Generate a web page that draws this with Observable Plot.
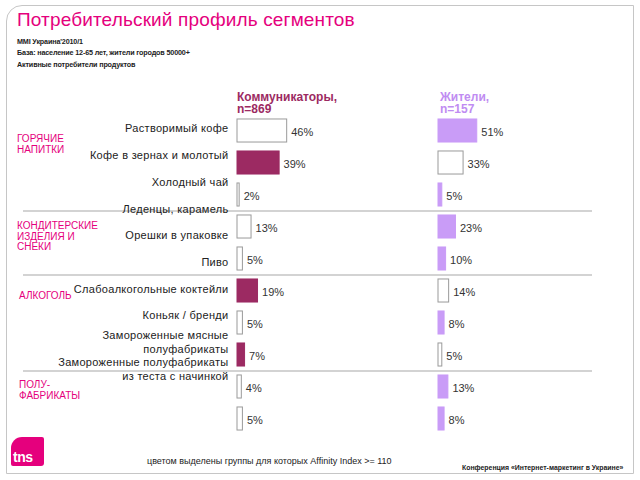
<!DOCTYPE html>
<html><head><meta charset="utf-8">
<script src="https://cdn.jsdelivr.net/npm/d3@7"></script>
<script src="https://cdn.jsdelivr.net/npm/@observablehq/plot@0.6"></script>
<style>
body{margin:0;background:#fff;font-family:"Liberation Sans",Arial,sans-serif;}
#root{position:relative;width:640px;height:480px;overflow:hidden;background:#fff;}
.abs{position:absolute;white-space:pre;}
#root svg{position:absolute;left:0;top:0;}
</style></head><body><div id="root"></div>
<script>
// ---- data ----
const title = "Потребительский профиль сегментов";
const subtitleLines = ["MMI Украина'2010/1", "База: население 12-65 лет, жители городов 50000+", "Активные потребители продуктов"];
const products = ["Растворимый кофе", "Кофе в зернах и молотый", "Холодный чай", "Леденцы, карамель", "Орешки в упаковке", "Пиво", "Слабоалкогольные коктейли", "Коньяк / бренди", "Замороженные мясные\nполуфабрикаты", "Замороженные полуфабрикаты\nиз теста с начинкой"];
const groupNames = ["ГОРЯЧИЕ\nНАПИТКИ", "КОНДИТЕРСКИЕ\nИЗДЕЛИЯ И\nСНЕКИ", "АЛКОГОЛЬ", "ПОЛУ-\nФАБРИКАТЫ"];
const groupSizes = [3, 2, 3, 2];
const segmentNames = ["Коммуникаторы,\nn=869", "Жители,\nn=157"];
const communicators = [46, 39, 2, 13, 5, 19, 5, 7, 4, 5];
const communicatorsHighlight = [false, true, false, false, false, true, false, true, false, false];
const residents = [51, 33, 5, 23, 10, 14, 8, 5, 13, 8];
const residentsHighlight = [true, false, true, true, true, false, true, false, true, true];
const footnote = "цветом выделены группы для которых Affinity Index >= 110";
const conference = "Конференция «Интернет-маркетинг в Украине»";

// ---- layout / style ----
const FONT = '"Liberation Sans", Arial, sans-serif';
const PINK = "#e5007d";
const C1 = "#9c2a62", C2 = "#c99cf7";
const root = document.getElementById("root");
function div(text, css){ const d=document.createElement("div"); d.className="abs"; d.textContent=text; Object.assign(d.style, css); root.appendChild(d); return d; }

// frame
const fr = document.createElement("div");
Object.assign(fr.style,{position:"absolute",left:"6px",top:"5px",width:"626px",height:"467px",border:"1.5px solid #c6c6c6",borderTopLeftRadius:"16px"});
root.appendChild(fr);

div(title,{left:"17px",top:"10px",fontSize:"19px",lineHeight:"19px",letterSpacing:"0.15px",color:PINK});
div(subtitleLines.join("\n"),{left:"17px",top:"36px",fontSize:"7.2px",lineHeight:"11.3px",letterSpacing:"-0.15px",color:"#222",fontWeight:"bold"});

div(segmentNames[0],{left:"237px",top:"92px",fontSize:"12px",lineHeight:"11.5px",fontWeight:"bold",color:C1});
div(segmentNames[1],{left:"440px",top:"92px",fontSize:"12px",lineHeight:"11.5px",fontWeight:"bold",color:"#c08cf2"});

const groupPos = [[17,134],[17,221],[19,291],[19,380]];
groupNames.forEach((g,k)=>div(g,{left:groupPos[k][0]+"px",top:groupPos[k][1]+"px",fontSize:"10px",lineHeight:"10.7px",color:PINK}));

// plots
const rows = products.map((p,i)=>({i, product:p}));
const nRows = products.length;
const yDom = [-0.5, nRows - 0.5];
const HB = 0.36;

// rules between groups
const bounds = d3.cumsum(groupSizes).slice(0,-1).map(c => c - 0.5);
root.appendChild(Plot.plot({
  width:640, height:480, marginTop:114.5, marginBottom:45.5, marginLeft:23, marginRight:48,
  style:{background:"transparent", fontFamily:FONT, overflow:"visible"},
  y:{domain:yDom, reverse:true, axis:null},
  marks:[Plot.ruleY(bounds,{stroke:"#c4c4c4", strokeWidth:1.5})]
}));

// product labels
root.appendChild(Plot.plot({
  width:640, height:480, marginTop:114.1, marginBottom:98.6, marginLeft:0, marginRight:412,
  style:{background:"transparent", fontFamily:FONT, overflow:"visible", letterSpacing:"0.3px"},
  y:{domain:yDom, reverse:true, axis:null},
  marks:[Plot.text(rows,{y:"i", text:"product", frameAnchor:"right", textAnchor:"end", fontSize:11, lineHeight:1.25, fill:"#222"})]
}));

function panel(values, hi, color, xRange){
  const data = values.map((v,i)=>({i, v, hi:hi[i]}));
  return Plot.plot({
    width:640, height:480, marginTop:114.5, marginBottom:45.5, marginLeft:0, marginRight:0,
    style:{background:"transparent", fontFamily:FONT, overflow:"visible"},
    x:{domain:[0,100], range:xRange, axis:null},
    y:{domain:yDom, reverse:true, axis:null},
    color:{type:"identity"},
    marks:[
      Plot.rect(data,{x1:0, x2:"v", y1:d=>d.i-HB, y2:d=>d.i+HB, fill:d=>d.hi?color:"#ffffff", stroke:d=>d.hi?color:"#9a9a9a", strokeWidth:1}),
      Plot.text(data,{x:"v", y:"i", text:d=>d.v+"%", dx:4, dy:1, textAnchor:"start", fontSize:11, fill:"#333"})
    ]
  });
}
root.appendChild(panel(communicators, communicatorsHighlight, C1, [237, 345]));
root.appendChild(panel(residents, residentsHighlight, C2, [438, 514]));

// footer
div(footnote,{left:"147px",top:"456px",fontSize:"9px",lineHeight:"11px",color:"#222"});
div(conference,{left:"462px",top:"463px",fontSize:"6.9px",lineHeight:"9px",color:"#222",fontWeight:"bold"});

// logo
const lg = document.createElement("div");
Object.assign(lg.style,{position:"absolute",left:"11px",top:"437px",width:"33px",height:"29px",background:PINK,borderRadius:"11px 2px 3px 2px",color:"#fff",fontWeight:"bold",fontSize:"14px",lineHeight:"14px",fontFamily:FONT,boxSizing:"border-box",paddingTop:"13px",paddingLeft:"2px",letterSpacing:"-0.5px"});
lg.textContent = "tns";
root.appendChild(lg);
</script></body></html>
